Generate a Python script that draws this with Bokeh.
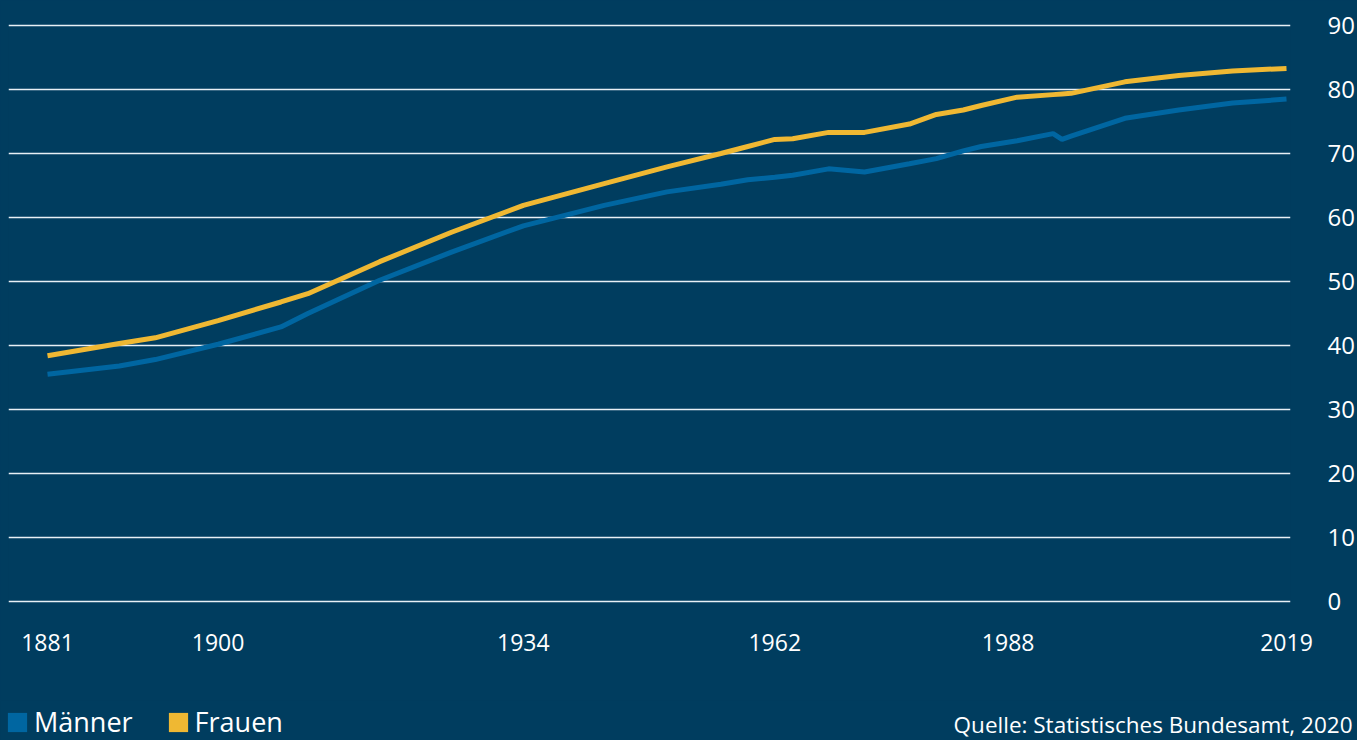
from bokeh.plotting import figure
from bokeh.layouts import column
from bokeh.models import (Range1d, FixedTicker, Legend, LegendItem, Label,
                          GlobalInlineStyleSheet)
from bokeh.embed import file_html
from bokeh.resources import INLINE

# ---- data ----
years = [1881, 1889, 1893, 1900, 1907, 1910, 1918, 1926, 1934, 1943, 1950, 1956,
         1959, 1962, 1964, 1968, 1972, 1977, 1980, 1983, 1985, 1989, 1993, 1994,
         1995, 2001, 2007, 2013, 2019]
maenner = [35.5, 36.8, 37.8, 40.2, 42.9, 45.0, 50.2, 54.6, 58.7, 61.9, 64.0, 65.2,
           65.9, 66.3, 66.6, 67.6, 67.1, 68.4, 69.2, 70.4, 71.1, 72.0, 73.1, 72.2,
           72.7, 75.5, 76.8, 77.9, 78.5]
frauen = [38.4, 40.3, 41.2, 43.9, 46.8, 48.1, 53.1, 57.7, 61.9, 65.3, 67.9, 70.0,
          71.1, 72.2, 72.3, 73.3, 73.3, 74.6, 76.1, 76.8, 77.5, 78.8, 79.2, 79.3,
          79.4, 81.2, 82.2, 82.9, 83.3]
x_ticks = [1881, 1900, 1934, 1962, 1988, 2019]
y_ticks = [0, 10, 20, 30, 40, 50, 60, 70, 80, 90]
series_names = ["Männer", "Frauen"]
source_text = "Quelle: Statistisches Bundesamt, 2020"

BG = "#003d5f"
BLUE = "#0066a1"
YELLOW = "#efb833"
FONT = "Open Sans"

p = figure(width=1357, height=700, output_backend="svg", toolbar_location=None,
           x_range=Range1d(1876.656, 2019.4455), y_range=Range1d(-0.78125, 90.78125),
           y_axis_location="right",
           min_border_left=8, min_border_right=0, min_border_top=20,
           min_border_bottom=94,
           background_fill_color=BG, border_fill_color=BG, outline_line_color=None)
p.frame_align = False
p.stylesheets = [GlobalInlineStyleSheet(css="html, body { background-color: #003d5f; }")]

# axes
p.xaxis.ticker = FixedTicker(ticks=x_ticks)
p.yaxis.ticker = FixedTicker(ticks=y_ticks)
for ax in (p.xaxis, p.yaxis):
    ax.axis_line_color = None
    ax.major_tick_line_color = None
    ax.minor_tick_line_color = None
    ax.major_label_text_color = "#ffffff"
    ax.major_label_text_font = FONT
p.xaxis.major_label_text_font_size = "23px"
p.xaxis.major_label_standoff = 21
p.yaxis.major_label_text_font_size = "24px"
p.yaxis.major_tick_out = 37
p.yaxis.major_label_standoff = 0

p.xgrid.visible = False
p.ygrid.grid_line_color = "#e8f0f5"
p.ygrid.grid_line_width = 1.4

# lines
p.line(years, maenner, line_color=BLUE, line_width=5)
p.line(years, frauen, line_color=YELLOW, line_width=5)

# ---- footer strip: legend + source ----
f = figure(width=1357, height=40, output_backend="svg", toolbar_location=None,
           x_range=Range1d(0, 1), y_range=Range1d(0, 1),
           x_axis_type=None, y_axis_type=None,
           min_border_left=0, min_border_right=0, min_border_top=0, min_border_bottom=0,
           background_fill_color=BG, border_fill_color=BG, outline_line_color=None)
f.frame_align = False
f.xgrid.visible = False
f.ygrid.visible = False

# legend swatches: each series' span as a box (lies outside this strip's ranges,
# so only the legend glyph shows)
r_m = f.quad(left=[years[0]], right=[years[-1]], bottom=[min(maenner)], top=[max(maenner)],
             fill_color=BLUE, line_color=None)
r_f = f.quad(left=[years[0]], right=[years[-1]], bottom=[min(frauen)], top=[max(frauen)],
             fill_color=YELLOW, line_color=None)
legend = Legend(items=[LegendItem(label=series_names[0], renderers=[r_m]),
                       LegendItem(label=series_names[1], renderers=[r_f])],
                orientation="horizontal", location=(5, 0),
                glyph_width=24, glyph_height=24, label_standoff=5, spacing=33,
                padding=0, margin=0, border_line_color=None,
                background_fill_alpha=0,
                label_text_color="#ffffff", label_text_font=FONT,
                label_text_font_size="27px")
f.add_layout(legend)

f.add_layout(Label(x=1352, y=16, x_units="screen", y_units="screen",
                   text=source_text, text_align="right", text_baseline="alphabetic",
                   text_color="#ffffff", text_font=FONT,
                   text_font_size="22.5px"))

layout = column(p, f, spacing=0, background=BG)

open("out.html", "w").write(file_html(layout, INLINE))
